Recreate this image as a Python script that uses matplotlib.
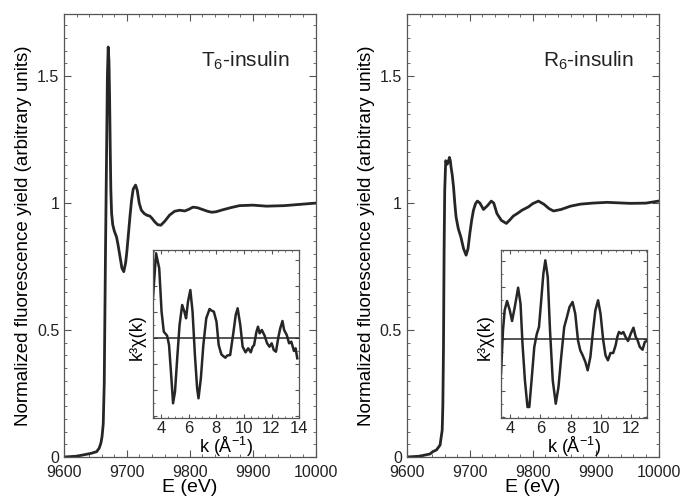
import numpy as np
import matplotlib
matplotlib.use("Agg")
import matplotlib.pyplot as plt
from matplotlib.ticker import MultipleLocator, NullFormatter

plt.rcParams['font.family'] = ['Liberation Sans', 'DejaVu Sans']
plt.rcParams['mathtext.fontset'] = 'custom'
plt.rcParams['mathtext.rm'] = 'Liberation Sans'

# XANES, T6-insulin
e_t6 = [9600, 9620, 9638.6, 9644, 9652, 9656, 9658.7, 9660.5, 9662.4, 9664, 9665, 9666,
        9667.5, 9669, 9670.3, 9671.5, 9672.5, 9673.5, 9674.5, 9675.7, 9677.5, 9680, 9683.6,
        9686, 9689, 9692, 9695, 9698, 9700, 9702, 9705, 9707.4, 9710, 9713.8, 9716.5, 9719.6,
        9723, 9727.5, 9732, 9736.5, 9740, 9744.4, 9749, 9754, 9760, 9768, 9776, 9784, 9792,
        9798, 9805, 9812, 9820, 9828, 9835, 9842, 9850, 9865, 9879, 9900, 9922, 9950, 9975,
        10000]
mu_t6 = [0.0, 0.003, 0.012, 0.015, 0.021, 0.035, 0.055, 0.08, 0.13, 0.29, 0.55, 0.81,
         1.15, 1.50, 1.615, 1.56, 1.42, 1.22, 1.05, 0.96, 0.915, 0.89, 0.866,
         0.835, 0.79, 0.745, 0.73, 0.765, 0.81, 0.866, 0.95, 1.01, 1.055, 1.071, 1.05, 1.0,
         0.972, 0.959, 0.952, 0.949, 0.94, 0.926, 0.915, 0.913, 0.928, 0.953, 0.968, 0.972,
         0.969, 0.975, 0.984, 0.982, 0.975, 0.968, 0.964, 0.966, 0.972, 0.982, 0.99, 0.992,
         0.988, 0.99, 0.995, 1.0]

# XANES, R6-insulin
e_r6 = [9600, 9620, 9636.7, 9641, 9647, 9652.6, 9656, 9657, 9658, 9659, 9660, 9661.6,
        9663, 9664, 9666, 9667.5, 9669, 9670, 9672, 9674, 9676, 9678, 9681.5, 9685.6, 9690,
        9694, 9697, 9700, 9703, 9705.7, 9709, 9712, 9716, 9721.6, 9728, 9734, 9738, 9743,
        9750, 9758, 9764, 9769, 9776, 9782.8, 9793, 9800, 9809, 9818, 9826, 9833, 9845, 9860,
        9876, 9895, 9918, 9955, 9980, 10000]
mu_r6 = [0.0, 0.003, 0.012, 0.021, 0.028, 0.047, 0.106, 0.2, 0.42, 0.81, 1.05, 1.167,
         1.16, 1.153, 1.165, 1.18, 1.165, 1.143, 1.11, 1.064, 1.0, 0.946, 0.9, 0.867, 0.82,
         0.795, 0.82, 0.882, 0.935, 0.972, 0.998, 1.008, 1.0, 0.975, 0.99, 1.008, 1.0, 0.959,
         0.932, 0.92, 0.935, 0.949, 0.96, 0.972, 0.985, 0.998, 1.008, 0.995, 0.978, 0.969,
         0.975, 0.988, 0.996, 1.0, 1.003, 0.999, 1.0, 1.008]

# EXAFS insets, k^3 chi(k) (arbitrary units)
k_t6 = [3.41, 3.65, 3.88, 4.05, 4.21, 4.45, 4.59, 4.76, 4.88, 5.02, 5.18, 5.35, 5.54,
        5.70, 5.82, 5.96, 6.13, 6.29, 6.46, 6.62, 6.72, 6.89, 7.07, 7.28, 7.52, 7.65, 7.83,
        8.02, 8.18, 8.37, 8.50, 8.66, 8.80, 9.01, 9.25, 9.41, 9.55, 9.74, 9.91, 10.12,
        10.31, 10.50, 10.62, 10.74, 10.90, 11.02, 11.14, 11.30, 11.50, 11.68, 11.85, 12.01,
        12.16, 12.32, 12.50, 12.63, 12.79, 12.91, 13.10, 13.27, 13.43, 13.62, 13.74, 13.86]
chi_t6 = [3.63, 8.47, 6.97, 2.63, 0.63, 0.23, -0.7, -4.03, -6.53, -5.37, -2.03, 1.3, 3.3,
          2.63, 1.97, 3.63, 4.8, 2.63, -1.7, -5.03, -6.03, -4.03, -0.7, 1.97, 2.9, 2.75, 2.63,
          1.63, -0.7, -1.63, -1.8, -1.97, -1.75, -1.7, 0.63, 2.3, 2.97, 1.3, -0.87, -1.43,
          -1.03, -1.43, -0.9, -0.7, 0.57, 1.13, 0.47, 0.8, 0.23, -0.53, -0.87, -0.53,
          -1.2, -1.37, 0.13, 0.97, 1.7, 0.8, 0.3, -0.53, -0.37, -1.3, -1.03, -2.03]

k_r6 = [3.40, 3.53, 3.64, 3.80, 3.98, 4.13, 4.31, 4.53, 4.69, 4.82, 4.98, 5.15, 5.27,
        5.42, 5.60, 5.76, 5.91, 6.04, 6.20, 6.33, 6.49, 6.64, 6.82, 7.02, 7.20, 7.38, 7.58,
        7.76, 7.93, 8.13, 8.31, 8.49, 8.64, 8.80, 8.98, 9.13, 9.31, 9.49, 9.64, 9.82, 9.98,
        10.16, 10.31, 10.47, 10.64, 10.82, 10.98, 11.09, 11.20, 11.36, 11.49, 11.64, 11.80,
        11.98, 12.16, 12.31, 12.42, 12.58, 12.76, 12.91, 13.04]
chi_r6 = [-3.47, 0.87, 2.87, 3.8, 2.87, 1.8, 3.2, 5.13, 3.53, -0.47, -4.13, -6.8, -6.8,
          -4.13, -0.8, 0.47, 1.2, 3.53, 6.53, 7.87, 6.2, 0.87, -4.13, -6.47, -4.8, -1.8, 1.2,
          2.2, 3.2, 3.7, 2.53, -0.13, -1.13, -1.63, -2.3, -3.13, -1.8, 0.87, 2.87, 3.87, 2.53,
          -0.13, -1.63, -2.13, -1.4, -1.4, -0.63, 0.2, 0.7, 0.53, 0.7, 0.2, -0.2,
          0.53, 1.13, 0.2, -0.07, -0.8, -1.07, -0.3, -0.2]

line_col = '#262626'
spine_col = '#555555'


def style_axes(ax, size):
    for s in ax.spines.values():
        s.set_color(spine_col)
        s.set_linewidth(0.9)
    ax.tick_params(which='both', direction='in', top=True, right=True,
                   colors=spine_col, labelcolor='#222222', labelsize=size)
    ax.tick_params(which='major', length=5)
    ax.tick_params(which='minor', length=2.5)


fig = plt.figure(figsize=(6.8, 4.99), dpi=100)

panels = [
    (0.0941, 0.2250, e_t6, mu_t6, k_t6, chi_t6, (3.43, 14.0), (-8.0, 8.8), 'T'),
    (0.5985, 0.7368, e_r6, mu_r6, k_r6, chi_r6, (3.4, 13.07), (-7.9, 8.9), 'R'),
]

for left, inset_left, e, mu, k, chi, kl, cl, name in panels:
    ax = fig.add_axes([left, 0.0842, 0.3700, 0.8878])
    ax.plot(e, mu, color=line_col, lw=2.0)
    ax.set_xlim(9600, 10000)
    ax.set_ylim(0, 1.745)
    ax.xaxis.set_major_locator(MultipleLocator(100))
    ax.xaxis.set_minor_locator(MultipleLocator(20))
    ax.yaxis.set_major_locator(MultipleLocator(0.5))
    ax.yaxis.set_minor_locator(MultipleLocator(0.05))
    ax.set_yticks([0, 0.5, 1, 1.5])
    ax.set_yticklabels(['0', '0.5', '1', '1.5'])
    style_axes(ax, 11.5)
    ax.tick_params(axis='x', pad=6)
    ax.set_xlabel('E (eV)', fontsize=14, va='center')
    ax.xaxis.set_label_coords(0.5, -0.07)
    ax.set_ylabel('Normalized fluorescence yield (arbitrary units)', fontsize=13.5, va='center')
    ax.yaxis.set_label_coords(-0.16, 0.5)
    ax.text(0.72, 0.895, name + r'$\mathregular{_6}$-insulin', transform=ax.transAxes,
            fontsize=15, ha='center', va='center', color='#222222')

    ins = fig.add_axes([inset_left, 0.1623, 0.2150, 0.3367])
    ins.plot(k, chi, color=line_col, lw=1.8)
    ins.axhline(0, color=line_col, lw=1.1)
    ins.set_xlim(*kl)
    ins.set_ylim(*cl)
    ins.xaxis.set_major_locator(MultipleLocator(2))
    ins.xaxis.set_minor_locator(MultipleLocator(0.5))
    ins.yaxis.set_major_locator(MultipleLocator(2.6))
    ins.yaxis.set_minor_locator(MultipleLocator(1.3))
    ins.yaxis.set_major_formatter(NullFormatter())
    style_axes(ins, 12)
    ins.tick_params(which='major', length=3)
    ins.tick_params(which='minor', length=1.5)
    ins.tick_params(axis='x', pad=2)
    ins.set_xlabel(r'k ($\mathregular{\AA^{-1}}$)', fontsize=13, va='center')
    ins.xaxis.set_label_coords(0.5, -0.17)
    ins.set_ylabel('k³χ(k)', fontsize=13, va='center')
    ins.yaxis.set_label_coords(-0.11, 0.48)

fig.savefig('out.png', dpi=100)
